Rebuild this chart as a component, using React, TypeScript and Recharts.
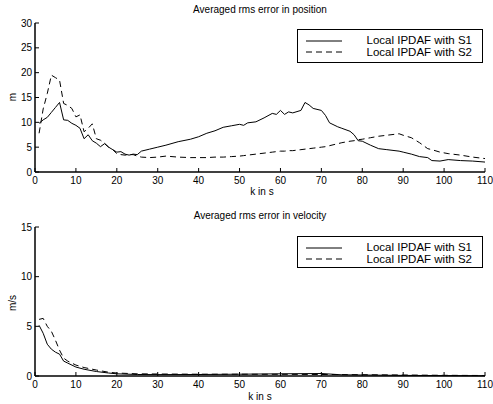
import { LineChart, Line, XAxis, YAxis, Legend } from 'recharts';

// position error (top panel)
const K_POS = [
  1, 2, 3, 4, 5, 6, 7, 8, 9, 10, 11, 12, 13, 14, 15, 16, 17, 18, 19, 20, 21, 22, 23, 24, 25, 26,
  28, 30, 32, 35, 38, 40, 42, 44, 46, 48, 50, 51, 52, 54, 56, 58, 59, 60, 61, 62, 63, 65, 66, 67,
  68, 70, 71, 72, 74, 75, 77, 78, 79, 80, 82, 84, 86, 88, 89, 90, 92, 94, 96, 97, 99, 101, 104, 107, 110,
];
const S1_POS = [
  9.8, 10.5, 11.0, 12.0, 13.0, 14.0, 10.5, 10.4, 9.8, 9.4, 8.8, 6.7, 7.5, 6.3, 5.8, 5.1, 5.7, 5.0, 4.5, 4.0, 4.1, 3.6, 3.4, 3.6, 3.5, 4.2,
  4.6, 5.0, 5.4, 6.1, 6.6, 7.1, 7.8, 8.3, 9.0, 9.3, 9.6, 9.4, 9.9, 10.1, 10.9, 11.8, 11.6, 12.4, 11.6, 12.1, 11.9, 12.4, 14.0, 13.5,
  12.8, 12.4, 11.4, 9.9, 9.1, 8.8, 8.2, 7.5, 6.3, 6.2, 5.4, 4.7, 4.5, 4.3, 4.2, 4.0, 3.6, 3.1, 2.9, 2.3, 2.2, 2.5, 2.3, 2.2, 2.0,
];
const S2_POS = [
  7.8, 12.7, 15.8, 19.5, 19.0, 18.5, 13.8, 13.4, 12.8, 11.1, 11.5, 8.1, 8.8, 9.7, 6.7, 6.4, 5.8, 5.0, 4.5, 3.7, 3.5, 3.4, 3.5, 3.5, 3.2, 3.0,
  2.9, 3.0, 3.2, 3.0, 2.9, 2.9, 2.9, 3.0, 3.0, 3.1, 3.2, 3.3, 3.4, 3.6, 3.8, 4.0, 4.1, 4.2, 4.2, 4.3, 4.3, 4.5, 4.6, 4.7,
  4.8, 5.0, 5.1, 5.3, 5.7, 5.9, 6.2, 6.3, 6.5, 6.6, 6.9, 7.2, 7.4, 7.6, 7.7, 7.4, 6.9, 5.9, 4.7, 4.5, 4.0, 3.7, 3.4, 3.0, 2.7,
];

// velocity error (bottom panel)
const K_VEL = [1, 2, 3, 4, 5, 6, 7, 8, 10, 12, 15, 18, 20, 25, 30, 40, 50, 60, 70, 75, 80, 90, 100, 110];
const S1_VEL = [5.1, 4.3, 3.2, 2.7, 2.4, 2.2, 1.5, 1.3, 0.9, 0.68, 0.45, 0.3, 0.22, 0.15, 0.14, 0.15, 0.18, 0.22, 0.25, 0.12, 0.1, 0.06, 0.04, 0.02];
const S2_VEL = [5.7, 5.8, 5.0, 4.5, 3.6, 2.6, 1.8, 1.5, 1.1, 0.85, 0.6, 0.38, 0.3, 0.22, 0.2, 0.18, 0.18, 0.17, 0.15, 0.14, 0.13, 0.1, 0.07, 0.05];

const X_TICKS = [0, 10, 20, 30, 40, 50, 60, 70, 80, 90, 100, 110];
const POS_TICKS = [0, 5, 10, 15, 20, 25, 30];
const VEL_TICKS = [0, 5, 10, 15];
const SERIES = ['Local IPDAF with S1', 'Local IPDAF with S2'];

const FONT = '"Liberation Sans", Arial, Helvetica, sans-serif';
const DASH = '6 4';

const toRows = (ks: number[], a: number[], b: number[]) => ks.map((k, i) => ({ k, s1: a[i], s2: b[i] }));

function LegendBox() {
  return (
    <div
      style={{
        boxSizing: 'border-box',
        width: '100%',
        height: '100%',
        border: '1.5px solid #000',
        background: '#fff',
        padding: '5px 10px 0 8px',
        fontFamily: FONT,
        fontSize: 11.5,
        color: '#000',
      }}
    >
      {SERIES.map((name, i) => (
        <div key={name} style={{ display: 'flex', alignItems: 'center', justifyContent: 'space-between', height: 11.6 }}>
          <svg width={36} height={6}>
            <line x1={0} y1={3} x2={36} y2={3} stroke="#000" strokeWidth={1} strokeDasharray={i === 1 ? DASH : undefined} />
          </svg>
          <span style={{ lineHeight: '11.6px' }}>{name}</span>
        </div>
      ))}
    </div>
  );
}

interface PanelProps {
  rows: { k: number; s1: number; s2: number }[];
  yMax: number;
  yTicks: number[];
  top: number;
  height: number;
  marginTop: number;
  marginBottom: number;
  legendTop: number;
  legendHeight: number;
}

function Panel({ rows, yMax, yTicks, top, height, marginTop, marginBottom, legendTop, legendHeight }: PanelProps) {
  const axisLine = { stroke: '#000', strokeWidth: 1.5 };
  const tickLine = { stroke: '#000', strokeWidth: 1 };
  const tick = { fontSize: 10, fill: '#000', fontFamily: FONT };
  const blank = () => '';
  return (
    <div style={{ position: 'absolute', left: 0, top }}>
      <LineChart width={493} height={height} data={rows} margin={{ top: marginTop, right: 8, bottom: marginBottom, left: 5 }}>
        <XAxis
          dataKey="k"
          type="number"
          domain={[0, 110]}
          ticks={X_TICKS}
          interval={0}
          height={20}
          tickSize={-4}
          tickMargin={9}
          axisLine={axisLine}
          tickLine={tickLine}
          tick={tick}
        />
        <XAxis
          xAxisId="top"
          orientation="top"
          dataKey="k"
          type="number"
          domain={[0, 110]}
          ticks={X_TICKS}
          interval={0}
          height={0}
          tickSize={-4}
          axisLine={axisLine}
          tickLine={tickLine}
          tickFormatter={blank}
        />
        <YAxis
          domain={[0, yMax]}
          ticks={yTicks}
          interval={0}
          width={30}
          tickSize={-4}
          tickMargin={7}
          axisLine={axisLine}
          tickLine={tickLine}
          tick={tick}
        />
        <YAxis
          yAxisId="right"
          orientation="right"
          domain={[0, yMax]}
          ticks={yTicks}
          interval={0}
          width={0}
          tickSize={-4}
          axisLine={axisLine}
          tickLine={tickLine}
          tickFormatter={blank}
        />
        <Line type="linear" dataKey="s1" name={SERIES[0]} stroke="#000" strokeWidth={1} dot={false} isAnimationActive={false} />
        <Line
          type="linear"
          dataKey="s2"
          name={SERIES[1]}
          stroke="#000"
          strokeWidth={1}
          strokeDasharray={DASH}
          dot={false}
          isAnimationActive={false}
        />
        <Legend
          layout="vertical"
          align="center"
          verticalAlign="middle"
          wrapperStyle={{ left: 297, top: legendTop, width: 186, height: legendHeight }}
          content={() => <LegendBox />}
        />
      </LineChart>
    </div>
  );
}

const labelStyle = (x: number, y: number, rotate = false): React.CSSProperties => ({
  position: 'absolute',
  left: x,
  top: y,
  transform: `translate(-50%, -50%)${rotate ? ' rotate(-90deg)' : ''}`,
  fontFamily: FONT,
  fontSize: 10,
  lineHeight: '12px',
  color: '#000',
  whiteSpace: 'nowrap',
});

export default function App() {
  return (
    <div style={{ position: 'absolute', left: 0, top: 0, width: 493, height: 404, background: '#fff', overflow: 'hidden' }}>
      <Panel
        rows={toRows(K_POS, S1_POS, S2_POS)}
        yMax={30}
        yTicks={POS_TICKS}
        top={0}
        height={200}
        marginTop={23}
        marginBottom={8}
        legendTop={29}
        legendHeight={34}
      />
      <Panel
        rows={toRows(K_VEL, S1_VEL, S2_VEL)}
        yMax={15}
        yTicks={VEL_TICKS}
        top={200}
        height={204}
        marginTop={27}
        marginBottom={8}
        legendTop={36}
        legendHeight={32}
      />
      <div style={labelStyle(260, 10)}>Averaged rms error in position</div>
      <div style={labelStyle(262, 192)}>k in s</div>
      <div style={labelStyle(13, 97, true)}>m</div>
      <div style={labelStyle(260, 216)}>Averaged rms error in velocity</div>
      <div style={labelStyle(260, 397)}>k in s</div>
      <div style={labelStyle(13, 303, true)}>m/s</div>
    </div>
  );
}
